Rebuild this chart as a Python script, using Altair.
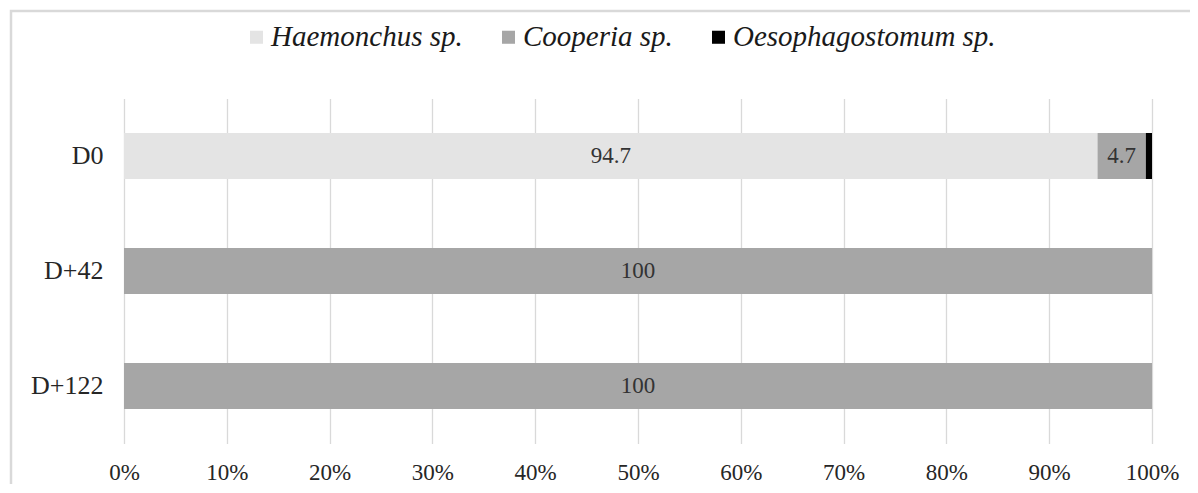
import altair as alt
import pandas as pd

days = ["D0", "D0", "D0", "D+42", "D+122"]
species = ["Haemonchus sp.", "Cooperia sp.", "Oesophagostomum sp.", "Cooperia sp.", "Cooperia sp."]
values = [94.7, 4.7, 0.6, 100, 100]
labels = ["94.7", "4.7", "", "100", "100"]

species_order = ["Haemonchus sp.", "Cooperia sp.", "Oesophagostomum sp."]
species_colors = ["#e4e4e4", "#a6a6a6", "#000000"]
day_order = ["D0", "D+42", "D+122"]
x_ticks = [0, 10, 20, 30, 40, 50, 60, 70, 80, 90, 100]

df = pd.DataFrame({"day": days, "species": species, "value": values, "label": labels})
df["ord"] = df["species"].map({s: i for i, s in enumerate(species_order)})

FONT = "Liberation Serif"

base = alt.Chart(df).transform_stack(
    stack="value", groupby=["day"], sort=[alt.SortField("ord")], as_=["x0", "x1"]
)

y_enc = alt.Y("day:N", sort=day_order, title=None,
              scale=alt.Scale(paddingInner=0.6, paddingOuter=0.3),
              axis=alt.Axis(domain=False, ticks=False, labelFont=FONT, labelFontSize=26,
                            labelColor="#262626", labelPadding=21))

bars = base.mark_bar().encode(
    x=alt.X("x0:Q", scale=alt.Scale(domain=[0, 100]), title=None,
            axis=alt.Axis(values=x_ticks, labelExpr="datum.value + '%'", domain=False, ticks=False,
                          grid=True, gridColor="#d9d9d9", gridWidth=1.3, labelFlush=False,
                          labelFont=FONT, labelFontSize=23, labelColor="#262626", labelPadding=18)),
    x2="x1:Q",
    y=y_enc,
    color=alt.Color("species:N", sort=species_order,
                    scale=alt.Scale(domain=species_order, range=species_colors),
                    legend=alt.Legend(title=None, orient="none", direction="horizontal",
                                      legendX=118, legendY=-76,
                                      symbolType="square", symbolSize=170, symbolStrokeWidth=0,
                                      labelFont=FONT, labelFontSize=29, labelFontStyle="italic",
                                      labelColor="#1a1a1a", labelOffset=0, columnPadding=31,
                                      labelLimit=500)),
    order=alt.Order("ord:Q"),
)

text = base.transform_calculate(mid="(datum.x0 + datum.x1) / 2").mark_text(
    font=FONT, fontSize=23, color="#333333"
).encode(
    x=alt.X("mid:Q"),
    y=alt.Y("day:N", sort=day_order),
    text="label:N",
)

frame = alt.Chart(pd.DataFrame({"a": [0]})).mark_rect(
    fill=None, stroke="#d9d9d9", strokeWidth=2.5
).encode(
    x=alt.value(-113), x2=alt.value(1070), y=alt.value(-87.5), y2=alt.value(420)
)

chart = alt.layer(frame, bars, text).properties(
    width=1028, height=345,
    padding={"left": 116, "top": 90.5, "right": 38, "bottom": 40},
    autosize=alt.AutoSizeParams(type="none"),
).configure_view(stroke=None)

chart.save("out.html", embed_options={"renderer": "svg", "actions": False})
